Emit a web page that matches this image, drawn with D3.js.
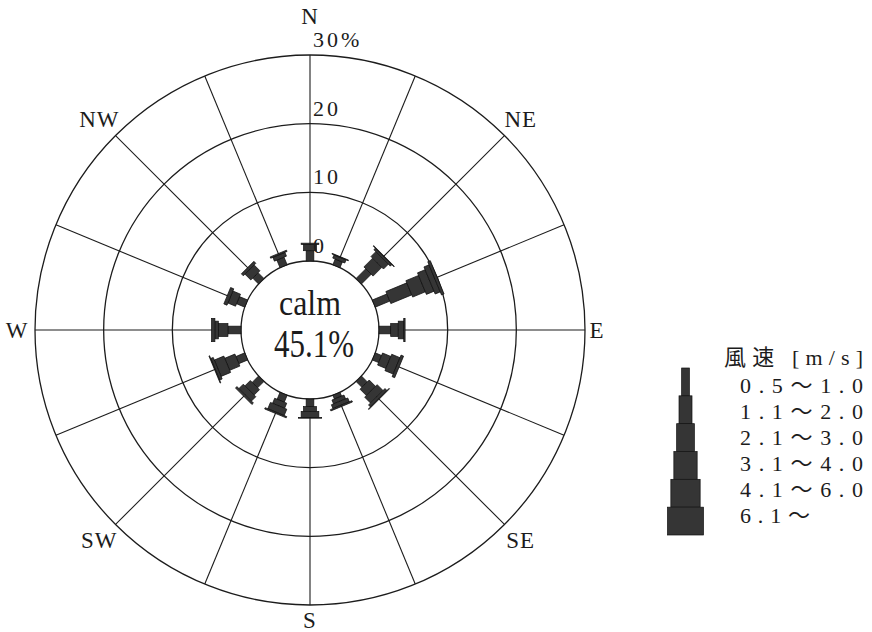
<!DOCTYPE html>
<html><head><meta charset="utf-8">
<script src="https://cdn.jsdelivr.net/npm/d3@7/dist/d3.min.js"></script>
<style>body{margin:0;background:#fff;} svg{display:block;}</style>
</head><body>
<svg id="chart" width="872" height="632"></svg>
<script>
// ---- data ----
const directions = ["N","NNE","NE","ENE","E","ESE","SE","SSE","S","SSW","SW","WSW","W","WNW","NW","NNW"];
const dirLabels = ["N","NE","E","SE","S","SW","W","NW"];
const speedClasses = ["0.5～1.0","1.1～2.0","2.1～3.0","3.1～4.0","4.1～6.0","6.1～"];
const legendTitle = "風速 [m/s]";
const calmLabel = "calm";
const calmValue = "45.1%";
const ringTicks = [0, 10, 20, 30];
const ringTickLabels = ["0", "10", "20", "30%"];
// frequency (%) per direction for each wind-speed class
const v05_10 = [1.5,0.9,2.0,2.3,1.7,1.0,1.2,0.6,1.1,1.1,1.3,1.4,1.9,1.3,1.2,1.2];
const v11_20 = [0.9,0.5,1.8,3.3,1.1,1.3,1.3,0.6,0.7,0.8,1.1,1.6,1.4,1.2,1.2,0.6];
const v21_30 = [0.2,0.1,1.0,2.0,0.8,1.3,1.2,0.6,0.9,1.0,0.9,1.5,0.5,0.5,0.4,0.2];
const v31_40 = [0.0,0.0,0.3,1.2,0.2,0.4,0.4,0.2,0.1,0.2,0.3,0.4,0.5,0.0,0.0,0.0];
const v41_60 = [0.0,0.0,0.1,0.8,0.0,0.0,0.1,0.0,0.0,0.0,0.0,0.1,0.0,0.0,0.0,0.0];
const v61    = [0.0,0.0,0.0,0.4,0.0,0.0,0.0,0.0,0.0,0.0,0.0,0.0,0.0,0.0,0.0,0.0];
const series = [v05_10, v11_20, v21_30, v31_40, v41_60, v61];

// ---- layout / style ----
const cx = 310, cy = 330;
const ink = "#1c1c1c", barFill = "#353535";
const serif = "'Liberation Serif','DejaVu Serif','Noto Sans CJK JP',serif";
const svg = d3.select("#chart");
const r = d3.scaleLinear().domain([0, 30]).range([69, 275]);
const ang = d3.scaleBand().domain(directions).range([0, 360]).align(0).paddingInner(0).paddingOuter(0);
const segW = d3.scaleOrdinal().domain(speedClasses).range([7.7, 13, 17.7, 23.3, 29.3, 36]);

const g = svg.append("g").attr("transform", `translate(${cx},${cy})`);

// rings
g.selectAll("circle.ring").data(ringTicks).join("circle")
  .attr("r", d => r(d)).attr("fill", "none").attr("stroke", ink).attr("stroke-width", 1.3);

// spokes
g.selectAll("line.spoke").data(directions).join("line")
  .attr("transform", d => `rotate(${ang(d)})`)
  .attr("x1", 0).attr("x2", 0).attr("y1", -r(0)).attr("y2", -r(30))
  .attr("stroke", ink).attr("stroke-width", 1.1);

// bars (stacked speed classes)
directions.forEach((dir, i) => {
  const bg = g.append("g").attr("transform", `rotate(${ang(dir)})`);
  let cum = 0;
  speedClasses.forEach((sc, k) => {
    const v = series[k][i];
    if (v <= 0) return;
    const a = cum, b = cum + v;
    cum = b;
    const w = segW(sc);
    bg.append("rect")
      .attr("x", -w / 2).attr("width", w)
      .attr("y", -r(b)).attr("height", r(b) - r(a))
      .attr("fill", barFill).attr("stroke", "#111").attr("stroke-width", 0.7);
  });
});

// ring tick labels (right of N axis)
g.selectAll("text.tick").data(ringTicks).join("text")
  .attr("x", 3).attr("y", d => -r(d) - 8)
  .attr("font-family", serif).attr("font-size", 22).attr("letter-spacing", 3)
  .attr("fill", ink)
  .text((d, i) => ringTickLabels[i]);

// direction labels
const labR = {N: 314, S: 290, E: 287, W: 293};
dirLabels.forEach(lab => {
  const a = ang(lab) * Math.PI / 180;
  const rr = labR[lab] || 298;
  g.append("text")
    .attr("x", rr * Math.sin(a)).attr("y", -rr * Math.cos(a))
    .attr("text-anchor", "middle").attr("dominant-baseline", "central")
    .attr("font-family", serif).attr("font-size", 23).attr("letter-spacing", 1)
    .attr("fill", ink).text(lab);
});

// calm text
g.append("text").attr("x", 0).attr("y", -15)
  .attr("text-anchor", "middle").attr("font-family", serif).attr("font-size", 35)
  .attr("textLength", 62).attr("lengthAdjust", "spacingAndGlyphs")
  .attr("fill", ink).text(calmLabel);
g.append("text").attr("x", 4).attr("y", 27)
  .attr("text-anchor", "middle").attr("font-family", serif).attr("font-size", 41)
  .attr("textLength", 80).attr("lengthAdjust", "spacingAndGlyphs")
  .attr("fill", ink).text(calmValue);

// legend
const legY = d3.scaleBand().domain(speedClasses).range([368, 535]);
const legCx = 685.5;
svg.selectAll("rect.leg").data(speedClasses).join("rect")
  .attr("x", d => legCx - segW(d) / 2).attr("width", d => segW(d))
  .attr("y", d => legY(d)).attr("height", legY.bandwidth())
  .attr("fill", barFill).attr("stroke", "#111").attr("stroke-width", 0.7);

svg.append("text").attr("x", 724).attr("y", 365)
  .attr("font-family", serif).attr("font-size", 22)
  .attr("textLength", 139).attr("lengthAdjust", "spacing")
  .attr("fill", ink).text(legendTitle);

svg.selectAll("text.legl").data(speedClasses).join("text")
  .attr("x", 740).attr("y", (d, i) => 393 + i * 26)
  .attr("font-family", serif).attr("font-size", 22)
  .attr("textLength", d => d.length > 5 ? 123 : 70).attr("lengthAdjust", "spacing")
  .attr("fill", ink).text(d => d);
</script>
</body></html>
